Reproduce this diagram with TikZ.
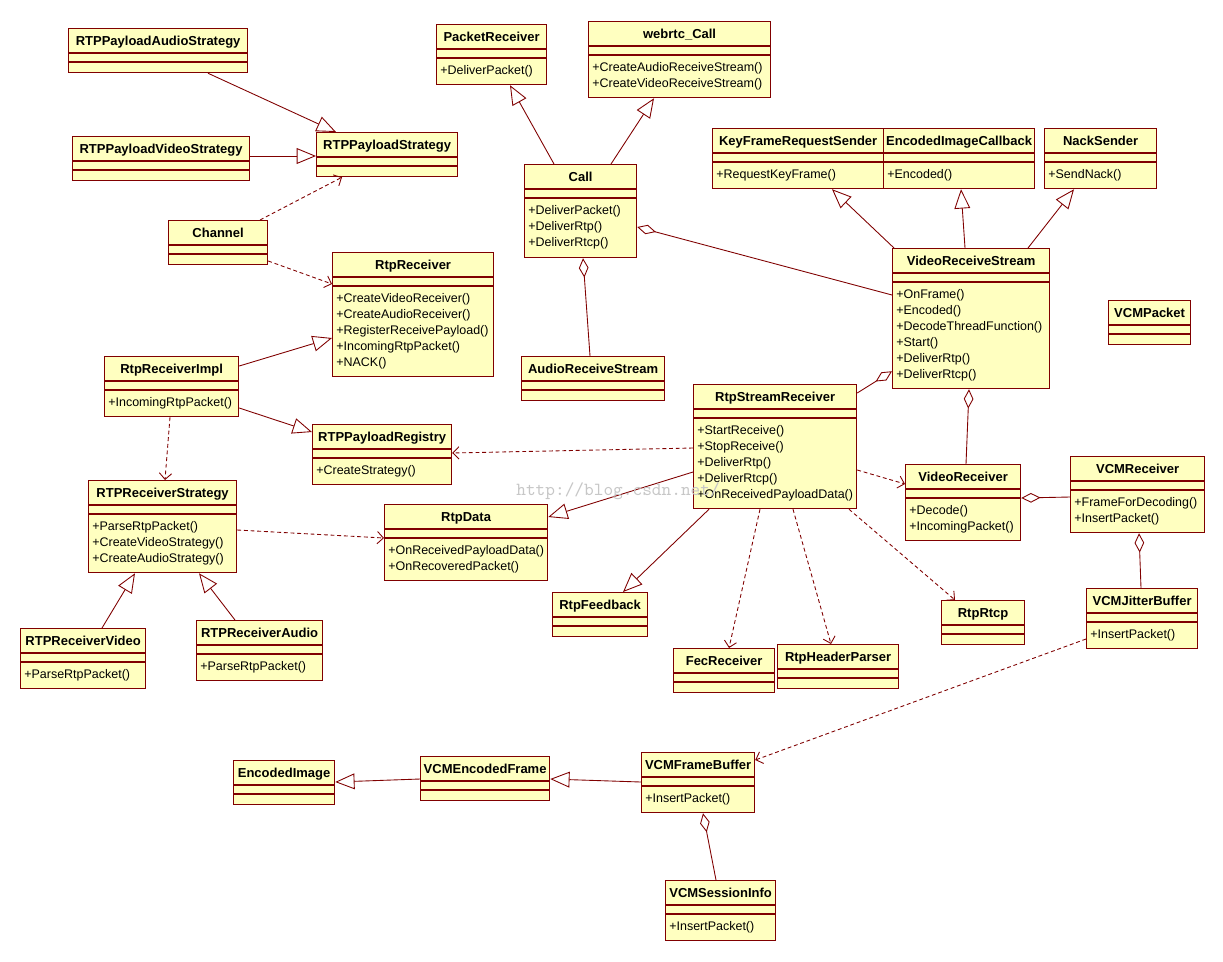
\documentclass[tikz,border=0pt]{standalone}
\usepackage{fontspec}
\setmainfont{Liberation Sans}
\usetikzlibrary{arrows.meta,calc}
\definecolor{umlfill}{RGB}{255,255,192}
\definecolor{umlred}{RGB}{128,0,0}

% class box: name, x, y, width, height, title
\newcommand{\umlclass}[6]{%
  \node[cls, minimum width=#4*0.02cm, minimum height=#5*0.02cm] (#1) at (#2,#3) {};
  \node[ttl] (#1-t) at ($(#1.north)+(0,17)$) {#6};
  \draw[sep] ($(#1.north west)+(0,25)$) -- ($(#1.north east)+(0,25)$);
  \draw[sep] ($(#1.north west)+(0,34)$) -- ($(#1.north east)+(0,34)$);
}
% operations: name, list
\newcommand{\umlops}[2]{%
  \foreach \opn [count=\opi] in {#2}
    \node[op] (#1-\opi) at ($(#1.north west)+(4,34.5+16*\opi)$) {\opn};
}

\begin{document}
\begin{tikzpicture}[x=0.02cm, y=-0.02cm,
  cls/.style={rectangle, draw=umlred, fill=umlfill, line width=0.7pt, anchor=north west, inner sep=0},
  ttl/.style={anchor=base, inner sep=0, font=\fontsize{7.4}{9}\selectfont\bfseries},
  op/.style={anchor=base west, inner sep=0, font=\fontsize{7.1}{9}\selectfont},
  sep/.style={draw=umlred, line width=0.6pt},
  lnk/.style={draw=umlred, line width=0.5pt},
  gen/.style={-{Triangle[open, length=11pt, width=9pt]}, lnk},
  dep/.style={-{Straight Barb[length=3.5pt, width=7pt]}, lnk, dash pattern=on 2.2pt off 1.6pt},
  agg/.style={{Diamond[open, length=11pt, width=5.5pt]}-, lnk},
  wm/.style={anchor=west, inner sep=0, text=black!22, font=\fontsize{10.5}{12}\selectfont\ttfamily}]
  \fill[white] (0,0) rectangle (1223,961);
  \useasboundingbox (0,0) rectangle (1223,961);
  % nodes
  \umlclass{aud}{68}{28}{179}{44}{RTPPayloadAudioStrategy}
  \umlclass{pkt}{436}{24}{110}{60}{PacketReceiver}
  \umlops{pkt}{+DeliverPacket()}
  \umlclass{webrtc}{588}{21}{182}{76}{webrtc\_Call}
  \umlops{webrtc}{+CreateAudioReceiveStream(),+CreateVideoReceiveStream()}
  \umlclass{vid}{72}{136}{177}{44}{RTPPayloadVideoStrategy}
  \umlclass{strat}{316}{132}{141}{44}{RTPPayloadStrategy}
  \umlclass{call}{524}{164}{112}{93}{Call}
  \umlops{call}{+DeliverPacket(),+DeliverRtp(),+DeliverRtcp()}
  \umlclass{kfrs}{712}{128}{171}{60}{KeyFrameRequestSender}
  \umlops{kfrs}{+RequestKeyFrame()}
  \umlclass{eic}{883}{128}{151}{60}{EncodedImageCallback}
  \umlops{eic}{+Encoded()}
  \umlclass{nack}{1044}{128}{112}{60}{NackSender}
  \umlops{nack}{+SendNack()}
  \umlclass{chan}{168}{220}{99}{44}{Channel}
  \umlclass{rtprecv}{332}{252}{161}{124}{RtpReceiver}
  \umlops{rtprecv}{+CreateVideoReceiver(),+CreateAudioReceiver(),+RegisterReceivePayload(),+IncomingRtpPacket(),+NACK()}
  \umlclass{vrs}{892}{248}{157}{140}{VideoReceiveStream}
  \umlops{vrs}{+OnFrame(),+Encoded(),+DecodeThreadFunction(),+Start(),+DeliverRtp(),+DeliverRtcp()}
  \umlclass{vcmpkt}{1108}{300}{82}{44}{VCMPacket}
  \umlclass{ars}{521}{356}{143}{44}{AudioReceiveStream}
  \umlclass{impl}{104}{356}{134}{60}{RtpReceiverImpl}
  \umlops{impl}{+IncomingRtpPacket()}
  \umlclass{rsr}{693}{384}{163}{124}{RtpStreamReceiver}
  \umlops{rsr}{+StartReceive(),+StopReceive(),+DeliverRtp(),+DeliverRtcp(),+OnReceivedPayloadData()}
  \umlclass{reg}{312}{424}{139}{60}{RTPPayloadRegistry}
  \umlops{reg}{+CreateStrategy()}
  \umlclass{vrecv}{905}{464}{115}{76}{VideoReceiver}
  \umlops{vrecv}{+Decode(),+IncomingPacket()}
  \umlclass{vcmrecv}{1070}{456}{134}{76}{VCMReceiver}
  \umlops{vcmrecv}{+FrameForDecoding(),+InsertPacket()}
  \umlclass{rstrat}{88}{480}{148}{92}{RTPReceiverStrategy}
  \umlops{rstrat}{+ParseRtpPacket(),+CreateVideoStrategy(),+CreateAudioStrategy()}
  \umlclass{rtpdata}{384}{504}{163}{76}{RtpData}
  \umlops{rtpdata}{+OnReceivedPayloadData(),+OnRecoveredPacket()}
  \umlclass{fb}{552}{592}{95}{44}{RtpFeedback}
  \umlclass{rtcp}{941}{600}{83}{44}{RtpRtcp}
  \umlclass{jb}{1086}{588}{111}{60}{VCMJitterBuffer}
  \umlops{jb}{+InsertPacket()}
  \umlclass{rvid}{20}{628}{125}{60}{RTPReceiverVideo}
  \umlops{rvid}{+ParseRtpPacket()}
  \umlclass{raud}{196}{620}{126}{60}{RTPReceiverAudio}
  \umlops{raud}{+ParseRtpPacket()}
  \umlclass{fec}{673}{648}{101}{44}{FecReceiver}
  \umlclass{hdr}{777}{644}{121}{44}{RtpHeaderParser}
  \umlclass{encimg}{233}{760}{101}{44}{EncodedImage}
  \umlclass{encfr}{420}{756}{129}{44}{VCMEncodedFrame}
  \umlclass{fbuf}{641}{752}{113}{60}{VCMFrameBuffer}
  \umlops{fbuf}{+InsertPacket()}
  \umlclass{sess}{665}{880}{110}{60}{VCMSessionInfo}
  \umlops{sess}{+InsertPacket()}
  % generalization
  \draw[gen] ($(aud.south west)+(140,0)$) -- ($(strat.north west)+(20,0)$);
  \draw[gen] ($(vid.north east)+(0,20)$) -- ($(strat.north west)+(0,24)$);
  \draw[gen] ($(impl.north east)+(0,10)$) -- ($(rtprecv.north west)+(0,86)$);
  \draw[gen] ($(impl.north east)+(0,52)$) -- ($(reg.north west)+(0,8)$);
  \draw[gen] ($(rvid.north west)+(82,0)$) -- ($(rstrat.south west)+(47,0)$);
  \draw[gen] ($(raud.north west)+(39,0)$) -- ($(rstrat.south west)+(111,0)$);
  \draw[gen] ($(rsr.north west)+(0,88)$) -- ($(rtpdata.north east)+(0,13)$);
  \draw[gen] ($(rsr.south west)+(16,0)$) -- ($(fb.north west)+(71,0)$);
  \draw[gen] ($(call.north west)+(30,0)$) -- ($(pkt.south west)+(74,0)$);
  \draw[gen] ($(call.north west)+(87,0)$) -- ($(webrtc.south west)+(66,0)$);
  \draw[gen] ($(vrs.north west)+(2,0)$) -- ($(kfrs.south west)+(120,0)$);
  \draw[gen] ($(vrs.north west)+(73,0)$) -- ($(eic.south west)+(78,0)$);
  \draw[gen] ($(vrs.north west)+(136,0)$) -- ($(nack.south west)+(30,0)$);
  \draw[gen] ($(fbuf.north west)+(0,30)$) -- ($(encfr.north east)+(0,23)$);
  \draw[gen] ($(encfr.north west)+(0,23)$) -- ($(encimg.north east)+(0,22)$);
  % dependency
  \draw[dep] ($(chan.north west)+(92,0)$) -- ($(strat.south west)+(26,0)$);
  \draw[dep] ($(chan.north east)+(0,41)$) -- ($(rtprecv.north west)+(0,32)$);
  \draw[dep] ($(impl.south west)+(66,0)$) -- ($(rstrat.north west)+(77,0)$);
  \draw[dep] ($(rstrat.north east)+(0,50)$) -- ($(rtpdata.north west)+(0,34)$);
  \draw[dep] ($(rsr.north west)+(0,64)$) -- ($(reg.north east)+(0,29)$);
  \draw[dep] ($(rsr.north east)+(0,86)$) -- ($(vrecv.north west)+(0,20)$);
  \draw[dep] ($(rsr.south west)+(67,0)$) -- ($(fec.north west)+(56,0)$);
  \draw[dep] ($(rsr.south west)+(100,0)$) -- ($(hdr.north west)+(54,0)$);
  \draw[dep] ($(rsr.south west)+(156,0)$) -- ($(rtcp.north west)+(14,0)$);
  \draw[dep] ($(jb.north west)+(0,51)$) -- ($(fbuf.north east)+(0,8)$);
  % aggregation
  \draw[agg] ($(call.north east)+(0,63)$) -- ($(vrs.north west)+(0,47)$);
  \draw[agg] ($(call.south west)+(59,0)$) -- ($(ars.north west)+(69,0)$);
  \draw[agg] ($(vrs.south west)+(0,-18)$) -- ($(rsr.north east)+(0,9)$);
  \draw[agg] ($(vrs.south west)+(77,0)$) -- ($(vrecv.north west)+(61,0)$);
  \draw[agg] ($(vrecv.north east)+(0,34)$) -- ($(vcmrecv.north west)+(0,41)$);
  \draw[agg] ($(vcmrecv.south west)+(69,0)$) -- ($(jb.north west)+(55,0)$);
  \draw[agg] ($(fbuf.south west)+(62,0)$) -- ($(sess.north west)+(51,0)$);
  % watermark
  \node[wm] (wm) at (516,491) {http://blog.csdn.net/};
\end{tikzpicture}
\end{document}
